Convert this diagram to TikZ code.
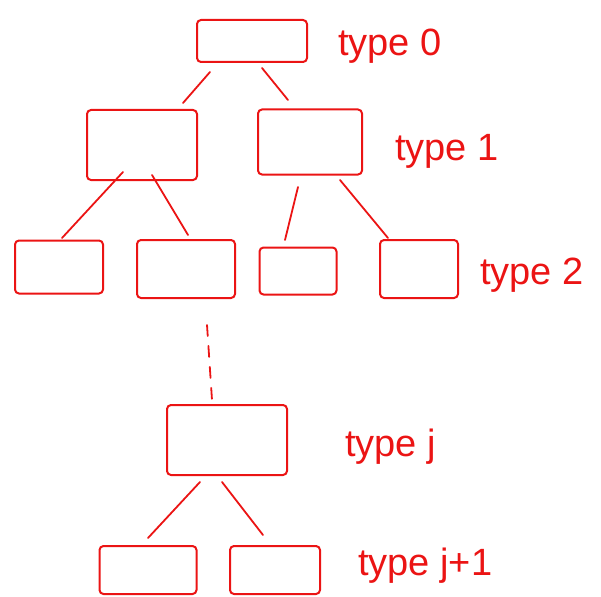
\documentclass[tikz,border=0pt]{standalone}
\usepackage{fontspec}
\setmainfont{Liberation Sans}
\definecolor{pen}{RGB}{235,20,20}
\begin{document}
\begin{tikzpicture}[x=1pt,y=-1pt,
  box/.style={draw=pen,line width=2pt,rounded corners=4pt,inner sep=0pt},
  link/.style={draw=pen,line width=1.8pt,line cap=round},
  lbl/.style={text=pen,font=\fontsize{38}{40}\selectfont,anchor=base west,inner sep=0pt}]
\useasboundingbox (0,0) rectangle (601,596);
% boxes
\node[box,minimum width=110pt,minimum height=42pt] (b0) at (252,41) {};
\node[box,minimum width=110pt,minimum height=70pt] (b1a) at (142,145) {};
\node[box,minimum width=104pt,minimum height=65pt] (b1b) at (310,142) {};
\node[box,minimum width=88pt,minimum height=53pt] (b2a) at (59,267) {};
\node[box,minimum width=98pt,minimum height=58pt] (b2b) at (186,269) {};
\node[box,minimum width=77pt,minimum height=47pt] (b2c) at (298,271) {};
\node[box,minimum width=78pt,minimum height=58pt] (b2d) at (419,269) {};
\node[box,minimum width=120pt,minimum height=70pt] (bj) at (227,440) {};
\node[box,minimum width=97pt,minimum height=48pt] (bja) at (148,570) {};
\node[box,minimum width=90pt,minimum height=48pt] (bjb) at (275,570) {};
% labels
\node[lbl] (l0) at (338,56) {type 0};
\node[lbl] (l1) at (395,160) {type 1};
\node[lbl] (l2) at (480,284) {type 2};
\node[lbl] (lj) at (345,456) {type j};
\node[lbl] (lj1) at (358,575) {type j+1};
% connector end points
\coordinate (c0a) at (210,72); \coordinate (c1a) at (183,103);
\coordinate (c0b) at (262,68); \coordinate (c1b) at (288,100);
\coordinate (c1aa) at (123,172); \coordinate (c2a) at (62,238);
\coordinate (c1ab) at (152,175); \coordinate (c2b) at (188,235);
\coordinate (c1ba) at (298,187); \coordinate (c2c) at (285,240);
\coordinate (c1bb) at (340,180); \coordinate (c2d) at (388,238);
\coordinate (d0) at (207,325); \coordinate (d1) at (212,400);
\coordinate (cja) at (200,482); \coordinate (cj1a) at (148,538);
\coordinate (cjb) at (222,482); \coordinate (cj1b) at (263,535);
% connectors
\draw[link] (c0a) -- (c1a);
\draw[link] (c0b) -- (c1b);
\draw[link] (c1aa) -- (c2a);
\draw[link] (c1ab) -- (c2b);
\draw[link] (c1ba) -- (c2c);
\draw[link] (c1bb) -- (c2d);
\draw[link,dash pattern=on 11pt off 10pt] (d0) -- (d1);
\draw[link] (cja) -- (cj1a);
\draw[link] (cjb) -- (cj1b);
\end{tikzpicture}
\end{document}
